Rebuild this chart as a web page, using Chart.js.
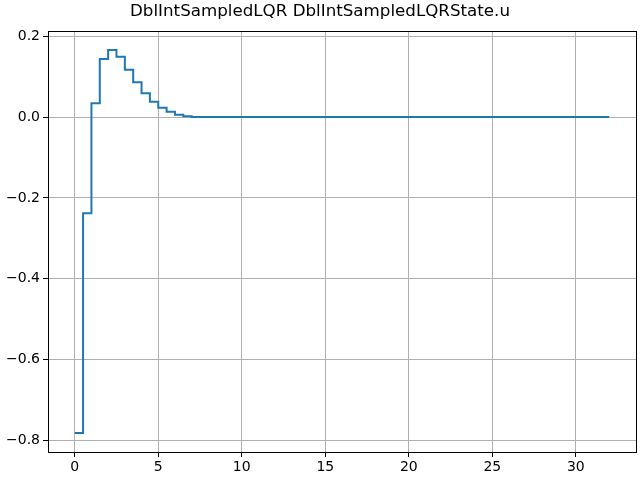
<!DOCTYPE html>
<html>
<head>
<meta charset="utf-8">
<script src="https://cdn.jsdelivr.net/npm/chart.js@4/dist/chart.umd.min.js"></script>
<style>
    html, body { margin: 0; padding: 0; background: #fff; }
</style>
</head>
<body>
<canvas id="chart" width="640" height="480"></canvas>
<script>
// step breakpoints (time) and the held value of u from each breakpoint on
const times = [0, 0.5, 1, 1.5, 2, 2.5, 3, 3.5, 4, 4.5, 5, 5.5, 6, 6.5, 7, 32];
const uValues = [-0.782, -0.238, 0.034, 0.144, 0.166, 0.149, 0.117, 0.086, 0.059, 0.038, 0.023, 0.013, 0.006, 0.002, 0.0, 0.0];
const xTicks = [0, 5, 10, 15, 20, 25, 30];
const yTicks = [-0.8, -0.6, -0.4, -0.2, 0.0, 0.2];
const title = 'DblIntSampledLQR DblIntSampledLQRState.u';

const font = 'DejaVu Sans';

const frame = {
    id: 'frame',
    afterDraw(chart) {
        const { ctx, chartArea: a } = chart;
        ctx.save();
        ctx.strokeStyle = '#000';
        ctx.lineWidth = 1;
        ctx.strokeRect(Math.round(a.left) + 0.5, Math.round(a.top) + 0.5,
            Math.round(a.right - a.left), Math.round(a.bottom - a.top));
        ctx.fillStyle = '#000';
        ctx.font = `16.7px "${font}"`;
        ctx.textAlign = 'center';
        ctx.textBaseline = 'middle';
        ctx.fillText(title, 320, 12);
        ctx.restore();
    }
};

const minus = (s) => s.replace('-', '\u2212');

new Chart(document.getElementById('chart'), {
    type: 'line',
    data: {
        datasets: [{
            data: times.map((t, i) => ({ x: t, y: uValues[i] })),
            borderColor: '#1f77b4',
            borderWidth: 2,
            pointRadius: 0,
            // chart.js 'before' keeps the previous value until the next x
            stepped: 'before',
            fill: false,
        }],
    },
    options: {
        responsive: false,
        animation: false,
        devicePixelRatio: 1,
        layout: { padding: { top: 31, right: 4, left: 0, bottom: 0 } },
        plugins: {
            legend: { display: false },
            tooltip: { enabled: false },
        },
        scales: {
            x: {
                type: 'linear',
                min: -1.6,
                max: 33.6,
                afterBuildTicks: (s) => { s.ticks = xTicks.map(v => ({ value: v })); },
                afterFit: (s) => { s.height = 28; },
                border: { display: false },
                grid: { color: '#b0b0b0', lineWidth: 1, tickColor: '#000', tickLength: 5 },
                ticks: {
                    color: '#000',
                    font: { family: font, size: 14 },
                    padding: 2,
                    maxRotation: 0,
                    callback: (v) => minus(String(v)),
                },
            },
            y: {
                type: 'linear',
                min: -0.829,
                max: 0.213,
                afterBuildTicks: (s) => { s.ticks = yTicks.map(v => ({ value: v })); },
                afterFit: (s) => { s.width = 48; },
                border: { display: false },
                grid: { color: '#b0b0b0', lineWidth: 1, tickColor: '#000', tickLength: 5 },
                ticks: {
                    color: '#000',
                    font: { family: font, size: 14 },
                    padding: 3,
                    callback: (v) => minus(v.toFixed(1)),
                },
            },
        },
    },
    plugins: [frame],
});
</script>
</body>
</html>
